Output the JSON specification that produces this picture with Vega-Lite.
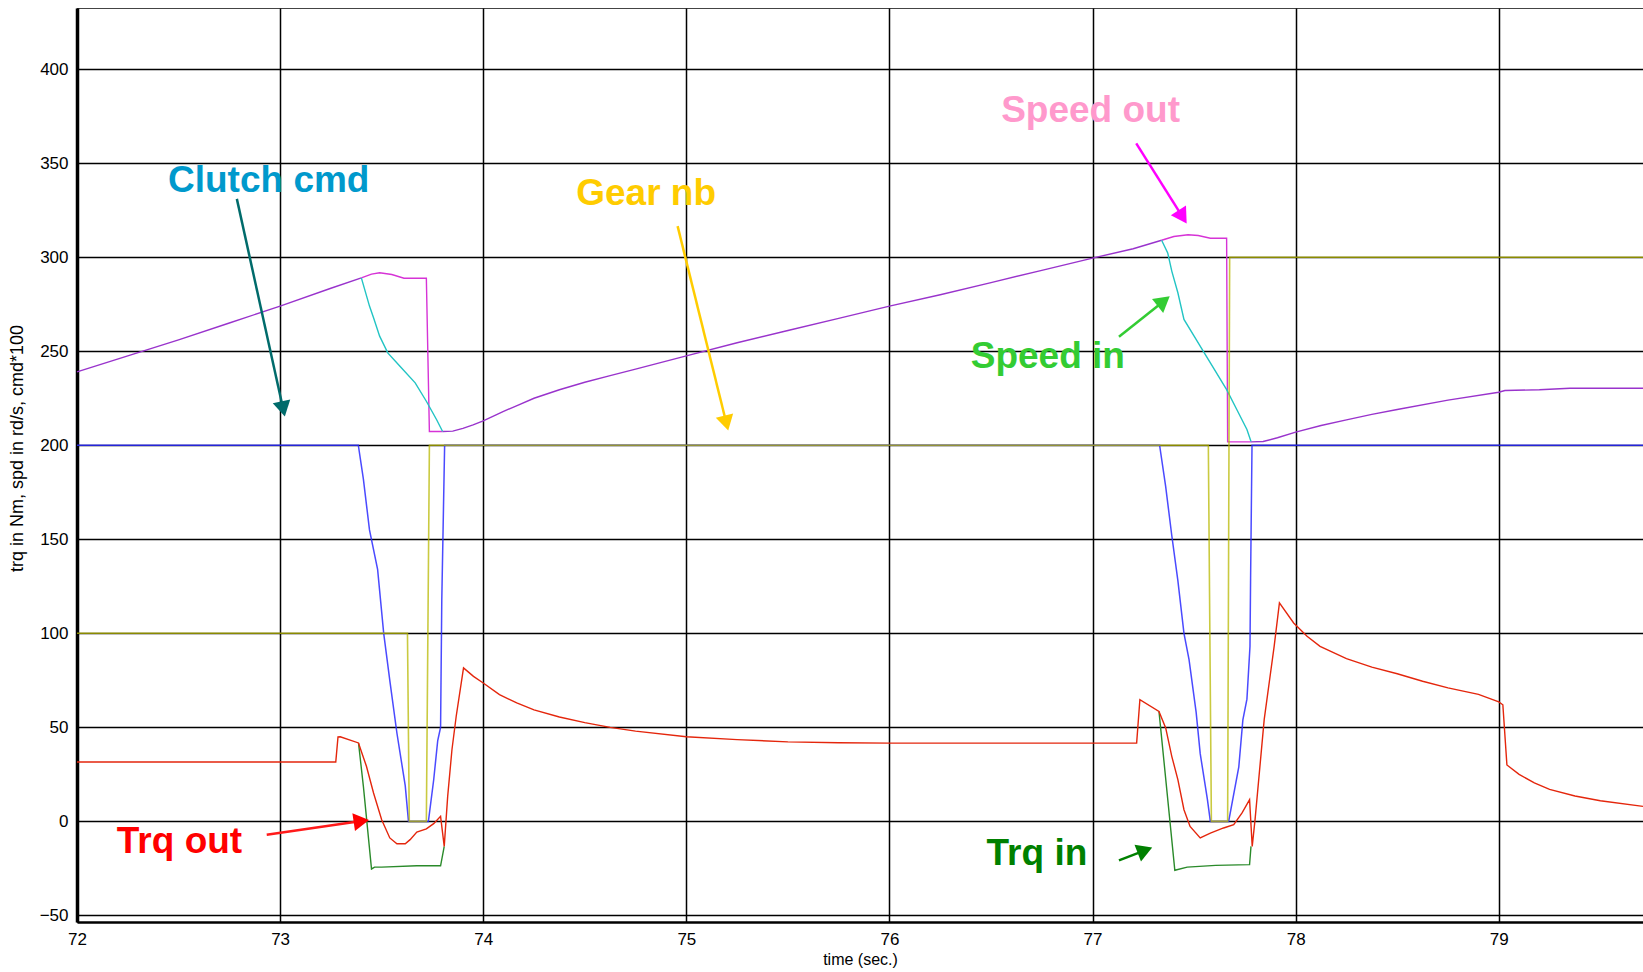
{
  "$schema": "https://vega.github.io/schema/vega-lite/v6.json",
  "width": 1566,
  "height": 914,
  "autosize": "none",
  "padding": {"left": 77, "top": 8, "right": 0, "bottom": 50},
  "background": "white",
  "config": {
    "font": "Liberation Sans",
    "view": {"stroke": "#444444", "strokeWidth": 1},
    "axis": {"labelFont": "Liberation Sans", "titleFont": "Liberation Sans", "labelColor": "black", "titleColor": "black", "titleFontWeight": "normal"}
  },
  "datasets": {
    "speedCommon": [
      {"seg": 1, "t": 72.0, "v": 239}, {"seg": 1, "t": 72.25, "v": 247.5}, {"seg": 1, "t": 72.5, "v": 256}, {"seg": 1, "t": 72.75, "v": 265}, {"seg": 1, "t": 73.0, "v": 274}, {"seg": 1, "t": 73.25, "v": 283.5}, {"seg": 1, "t": 73.4, "v": 289},
      {"seg": 2, "t": 73.8, "v": 207.3}, {"seg": 2, "t": 73.85, "v": 207.5}, {"seg": 2, "t": 73.9, "v": 209}, {"seg": 2, "t": 73.95, "v": 210.8}, {"seg": 2, "t": 74.0, "v": 213}, {"seg": 2, "t": 74.05, "v": 215.5}, {"seg": 2, "t": 74.1, "v": 218}, {"seg": 2, "t": 74.175, "v": 221.5}, {"seg": 2, "t": 74.25, "v": 225}, {"seg": 2, "t": 74.375, "v": 229.5}, {"seg": 2, "t": 74.5, "v": 233.5}, {"seg": 2, "t": 74.625, "v": 237}, {"seg": 2, "t": 74.75, "v": 240.5}, {"seg": 2, "t": 75.0, "v": 247.5}, {"seg": 2, "t": 75.25, "v": 254.5}, {"seg": 2, "t": 75.5, "v": 261}, {"seg": 2, "t": 75.75, "v": 267.5}, {"seg": 2, "t": 76.0, "v": 274}, {"seg": 2, "t": 76.25, "v": 280}, {"seg": 2, "t": 76.5, "v": 286.5}, {"seg": 2, "t": 76.75, "v": 293}, {"seg": 2, "t": 77.0, "v": 299.5}, {"seg": 2, "t": 77.2, "v": 304.5}, {"seg": 2, "t": 77.34, "v": 309},
      {"seg": 3, "t": 77.78, "v": 201.8}, {"seg": 3, "t": 77.84, "v": 202}, {"seg": 3, "t": 77.91, "v": 204}, {"seg": 3, "t": 78.0, "v": 207}, {"seg": 3, "t": 78.125, "v": 210.5}, {"seg": 3, "t": 78.25, "v": 213.5}, {"seg": 3, "t": 78.375, "v": 216.4}, {"seg": 3, "t": 78.5, "v": 219}, {"seg": 3, "t": 78.75, "v": 224}, {"seg": 3, "t": 79.0, "v": 228.2}, {"seg": 3, "t": 79.03, "v": 229.1}, {"seg": 3, "t": 79.2, "v": 229.5}, {"seg": 3, "t": 79.35, "v": 230.3}, {"seg": 3, "t": 79.71, "v": 230.3}
    ],
    "speedOut": [
      {"seg": 1, "t": 73.4, "v": 289}, {"seg": 1, "t": 73.45, "v": 291}, {"seg": 1, "t": 73.49, "v": 291.7}, {"seg": 1, "t": 73.55, "v": 290.8}, {"seg": 1, "t": 73.61, "v": 288.8}, {"seg": 1, "t": 73.72, "v": 288.8}, {"seg": 1, "t": 73.735, "v": 207.3}, {"seg": 1, "t": 73.8, "v": 207.3},
      {"seg": 2, "t": 77.34, "v": 309}, {"seg": 2, "t": 77.4, "v": 311}, {"seg": 2, "t": 77.47, "v": 311.9}, {"seg": 2, "t": 77.52, "v": 311.5}, {"seg": 2, "t": 77.58, "v": 310.1}, {"seg": 2, "t": 77.66, "v": 310.1}, {"seg": 2, "t": 77.665, "v": 201.8}, {"seg": 2, "t": 77.78, "v": 201.8}
    ],
    "speedIn": [
      {"seg": 1, "t": 73.4, "v": 289}, {"seg": 1, "t": 73.44, "v": 274}, {"seg": 1, "t": 73.46, "v": 267.8}, {"seg": 1, "t": 73.49, "v": 258}, {"seg": 1, "t": 73.53, "v": 249.1}, {"seg": 1, "t": 73.59, "v": 242}, {"seg": 1, "t": 73.665, "v": 233.2}, {"seg": 1, "t": 73.72, "v": 223.4}, {"seg": 1, "t": 73.77, "v": 213.7}, {"seg": 1, "t": 73.8, "v": 207.3},
      {"seg": 2, "t": 77.34, "v": 309}, {"seg": 2, "t": 77.37, "v": 302.3}, {"seg": 2, "t": 77.39, "v": 292.6}, {"seg": 2, "t": 77.42, "v": 281.1}, {"seg": 2, "t": 77.45, "v": 266.9}, {"seg": 2, "t": 77.5, "v": 258}, {"seg": 2, "t": 77.55, "v": 249.1}, {"seg": 2, "t": 77.61, "v": 238.5}, {"seg": 2, "t": 77.66, "v": 229.6}, {"seg": 2, "t": 77.71, "v": 219}, {"seg": 2, "t": 77.76, "v": 208.4}, {"seg": 2, "t": 77.78, "v": 202}
    ],
    "clutch": [
      {"t": 72.0, "v": 200}, {"t": 73.385, "v": 200}, {"t": 73.41, "v": 182}, {"t": 73.44, "v": 155}, {"t": 73.48, "v": 134}, {"t": 73.51, "v": 100}, {"t": 73.54, "v": 75}, {"t": 73.575, "v": 47}, {"t": 73.616, "v": 19}, {"t": 73.632, "v": 0}, {"t": 73.73, "v": 0}, {"t": 73.756, "v": 22}, {"t": 73.776, "v": 43}, {"t": 73.79, "v": 50}, {"t": 73.796, "v": 118}, {"t": 73.81, "v": 200},
      {"t": 77.33, "v": 200}, {"t": 77.36, "v": 178}, {"t": 77.39, "v": 152}, {"t": 77.42, "v": 128}, {"t": 77.45, "v": 100}, {"t": 77.475, "v": 86}, {"t": 77.51, "v": 58}, {"t": 77.53, "v": 36}, {"t": 77.565, "v": 12}, {"t": 77.58, "v": 0}, {"t": 77.67, "v": 0}, {"t": 77.72, "v": 29}, {"t": 77.74, "v": 54}, {"t": 77.76, "v": 65}, {"t": 77.775, "v": 93}, {"t": 77.778, "v": 129}, {"t": 77.785, "v": 200}, {"t": 79.71, "v": 200}
    ],
    "gear": [
      {"t": 72.0, "v": 100}, {"t": 73.627, "v": 100}, {"t": 73.636, "v": 0}, {"t": 73.72, "v": 0}, {"t": 73.735, "v": 200}, {"t": 77.57, "v": 200}, {"t": 77.585, "v": 0}, {"t": 77.665, "v": 0}, {"t": 77.675, "v": 300}, {"t": 79.71, "v": 300}
    ],
    "trqOut": [
      {"t": 72.0, "v": 31.6}, {"t": 73.274, "v": 31.6}, {"t": 73.285, "v": 44.9}, {"t": 73.296, "v": 45}, {"t": 73.386, "v": 41.7}, {"t": 73.4, "v": 37.2}, {"t": 73.425, "v": 29.3}, {"t": 73.46, "v": 15.1}, {"t": 73.5, "v": 0.9}, {"t": 73.54, "v": -8.8}, {"t": 73.575, "v": -11.9}, {"t": 73.616, "v": -11.9}, {"t": 73.64, "v": -9.7}, {"t": 73.673, "v": -5.7}, {"t": 73.72, "v": -4}, {"t": 73.756, "v": -1.2}, {"t": 73.79, "v": 2.7}, {"t": 73.808, "v": -13.3}, {"t": 73.825, "v": 13.3}, {"t": 73.846, "v": 38.1}, {"t": 73.867, "v": 55.9}, {"t": 73.903, "v": 81.6}, {"t": 73.952, "v": 77.1}, {"t": 74.0, "v": 73.6}, {"t": 74.08, "v": 67.4}, {"t": 74.165, "v": 63}, {"t": 74.25, "v": 59.3}, {"t": 74.375, "v": 55.5}, {"t": 74.5, "v": 52.5}, {"t": 74.625, "v": 50}, {"t": 74.75, "v": 48}, {"t": 75.0, "v": 45}, {"t": 75.25, "v": 43.5}, {"t": 75.5, "v": 42.3}, {"t": 75.75, "v": 41.8}, {"t": 76.0, "v": 41.6}, {"t": 77.217, "v": 41.6}, {"t": 77.233, "v": 64.7}, {"t": 77.327, "v": 58.5}, {"t": 77.36, "v": 49.7}, {"t": 77.39, "v": 34.6}, {"t": 77.42, "v": 22.2}, {"t": 77.45, "v": 6.2}, {"t": 77.48, "v": -2.7}, {"t": 77.53, "v": -8.8}, {"t": 77.58, "v": -6.2}, {"t": 77.645, "v": -3.5}, {"t": 77.695, "v": -1.8}, {"t": 77.736, "v": 4.5}, {"t": 77.773, "v": 11.5}, {"t": 77.786, "v": -13.3}, {"t": 77.8, "v": 0.9}, {"t": 77.845, "v": 54.1}, {"t": 77.894, "v": 93.1}, {"t": 77.92, "v": 116.2}, {"t": 77.99, "v": 105.5}, {"t": 78.056, "v": 98.4}, {"t": 78.12, "v": 93.1}, {"t": 78.25, "v": 86.5}, {"t": 78.375, "v": 82}, {"t": 78.5, "v": 78.5}, {"t": 78.625, "v": 74.5}, {"t": 78.75, "v": 71}, {"t": 78.9, "v": 67.5}, {"t": 79.0, "v": 63.5}, {"t": 79.02, "v": 62}, {"t": 79.04, "v": 30}, {"t": 79.1, "v": 25}, {"t": 79.175, "v": 20.5}, {"t": 79.25, "v": 17}, {"t": 79.375, "v": 13.5}, {"t": 79.5, "v": 11}, {"t": 79.71, "v": 8}
    ],
    "trqIn": [
      {"seg": 1, "t": 73.386, "v": 41.7}, {"seg": 1, "t": 73.41, "v": 18.6}, {"seg": 1, "t": 73.45, "v": -25.3}, {"seg": 1, "t": 73.465, "v": -24.3}, {"seg": 1, "t": 73.5, "v": -24.3}, {"seg": 1, "t": 73.673, "v": -23.6}, {"seg": 1, "t": 73.79, "v": -23.6}, {"seg": 1, "t": 73.808, "v": -13.3},
      {"seg": 2, "t": 77.327, "v": 58.5}, {"seg": 2, "t": 77.405, "v": -26}, {"seg": 2, "t": 77.466, "v": -24.3}, {"seg": 2, "t": 77.606, "v": -23.4}, {"seg": 2, "t": 77.773, "v": -23}, {"seg": 2, "t": 77.78, "v": -13.3}
    ],
    "labels": [
      {"name": "Clutch cmd", "t": 72.448, "v": 334.6},
      {"name": "Gear nb", "t": 74.458, "v": 328},
      {"name": "Speed out", "t": 76.55, "v": 371.8},
      {"name": "Speed in", "t": 76.4, "v": 241.2},
      {"name": "Trq out", "t": 72.196, "v": -16.8},
      {"name": "Trq in", "t": 76.478, "v": -23}
    ],
    "arrows": [
      {"name": "Clutch cmd", "t0": 72.787, "v0": 331, "t1": 73.015, "v1": 219.3},
      {"name": "Gear nb", "t0": 74.957, "v0": 316.5, "t1": 75.197, "v1": 211.8},
      {"name": "Speed out", "t0": 77.215, "v0": 360.5, "t1": 77.443, "v1": 321.4},
      {"name": "Speed in", "t0": 77.13, "v0": 257.7, "t1": 77.35, "v1": 276.6},
      {"name": "Trq out", "t0": 72.934, "v0": -7.1, "t1": 73.4, "v1": 0.2},
      {"name": "Trq in", "t0": 77.13, "v0": -20.7, "t1": 77.258, "v1": -15.4}
    ]
  },
  "layer": [
    {
      "data": {"name": "speedCommon"},
      "mark": {"type": "line", "color": "#9933cc", "strokeWidth": 1.4},
      "encoding": {
        "x": {"field": "t", "type": "quantitative", "scale": {"domain": [72, 79.71], "nice": false, "zero": false},
          "axis": {"values": [72, 73, 74, 75, 76, 77, 78, 79], "format": "d", "title": "time (sec.)", "grid": true, "gridColor": "black", "gridWidth": 1.5, "gridOpacity": 1, "domainColor": "black", "domainWidth": 2.5, "ticks": false, "labelFlush": false, "labelFontSize": 17, "labelPadding": 9, "titleFontSize": 16, "titlePadding": 4}},
        "y": {"field": "v", "type": "quantitative", "scale": {"domain": [-53.5, 432.5], "nice": false, "zero": false},
          "axis": {"values": [-50, 0, 50, 100, 150, 200, 250, 300, 350, 400], "title": "trq in Nm, spd in rd/s, cmd*100", "grid": true, "gridColor": "black", "gridWidth": 1.5, "gridOpacity": 1, "domainColor": "black", "domainWidth": 3.5, "ticks": false, "labelFlush": false, "labelFontSize": 17, "labelPadding": 9, "titleFontSize": 18, "titleX": -51, "titleY": 440}},
        "detail": {"field": "seg"},
        "order": {"value": null}
      }
    },
    {
      "data": {"name": "speedOut"},
      "mark": {"type": "line", "color": "#d633d6", "strokeWidth": 1.4},
      "encoding": {"x": {"field": "t", "type": "quantitative"}, "y": {"field": "v", "type": "quantitative"}, "detail": {"field": "seg"}, "order": {"value": null}}
    },
    {
      "data": {"name": "speedIn"},
      "mark": {"type": "line", "color": "#22c4c4", "strokeWidth": 1.4},
      "encoding": {"x": {"field": "t", "type": "quantitative"}, "y": {"field": "v", "type": "quantitative"}, "detail": {"field": "seg"}, "order": {"value": null}}
    },
    {
      "data": {"name": "clutch"},
      "mark": {"type": "line", "color": "#2a2aff", "strokeWidth": 1.5, "opacity": 0.85},
      "encoding": {"x": {"field": "t", "type": "quantitative"}, "y": {"field": "v", "type": "quantitative"}, "order": {"value": null}}
    },
    {
      "data": {"name": "gear"},
      "mark": {"type": "line", "color": "#b8b800", "strokeWidth": 1.6, "opacity": 0.75},
      "encoding": {"x": {"field": "t", "type": "quantitative"}, "y": {"field": "v", "type": "quantitative"}, "order": {"value": null}}
    },
    {
      "data": {"name": "trqIn"},
      "mark": {"type": "line", "color": "#2a8a2a", "strokeWidth": 1.4},
      "encoding": {"x": {"field": "t", "type": "quantitative"}, "y": {"field": "v", "type": "quantitative"}, "detail": {"field": "seg"}, "order": {"value": null}}
    },
    {
      "data": {"name": "trqOut"},
      "mark": {"type": "line", "color": "#e4260c", "strokeWidth": 1.4},
      "encoding": {"x": {"field": "t", "type": "quantitative"}, "y": {"field": "v", "type": "quantitative"}, "order": {"value": null}}
    },
    {
      "data": {"name": "arrows"},
      "mark": {"type": "rule", "strokeWidth": 2.5},
      "encoding": {
        "x": {"field": "t0", "type": "quantitative"}, "y": {"field": "v0", "type": "quantitative"},
        "x2": {"field": "t1"}, "y2": {"field": "v1"},
        "color": {"field": "name", "type": "nominal", "legend": null, "scale": {"domain": ["Clutch cmd", "Gear nb", "Speed out", "Speed in", "Trq out", "Trq in"], "range": ["#006b6b", "#ffcc00", "#ff00ff", "#33cc33", "#ff1a1a", "#008000"]}}
      }
    },
    {
      "data": {"name": "arrows"},
      "transform": [{"filter": "datum.name === 'Clutch cmd'"}],
      "mark": {"type": "point", "shape": "triangle-up", "filled": true, "opacity": 1, "size": 320, "angle": 167.6, "color": "#006b6b"},
      "encoding": {"x": {"field": "t1", "type": "quantitative"}, "y": {"field": "v1", "type": "quantitative"}}
    },
    {
      "data": {"name": "arrows"},
      "transform": [{"filter": "datum.name === 'Gear nb'"}],
      "mark": {"type": "point", "shape": "triangle-up", "filled": true, "opacity": 1, "size": 320, "angle": 166, "color": "#ffcc00"},
      "encoding": {"x": {"field": "t1", "type": "quantitative"}, "y": {"field": "v1", "type": "quantitative"}}
    },
    {
      "data": {"name": "arrows"},
      "transform": [{"filter": "datum.name === 'Speed out'"}],
      "mark": {"type": "point", "shape": "triangle-up", "filled": true, "opacity": 1, "size": 320, "angle": 147.8, "color": "#ff00ff"},
      "encoding": {"x": {"field": "t1", "type": "quantitative"}, "y": {"field": "v1", "type": "quantitative"}}
    },
    {
      "data": {"name": "arrows"},
      "transform": [{"filter": "datum.name === 'Speed in'"}],
      "mark": {"type": "point", "shape": "triangle-up", "filled": true, "opacity": 1, "size": 320, "angle": 51.4, "color": "#33cc33"},
      "encoding": {"x": {"field": "t1", "type": "quantitative"}, "y": {"field": "v1", "type": "quantitative"}}
    },
    {
      "data": {"name": "arrows"},
      "transform": [{"filter": "datum.name === 'Trq out'"}],
      "mark": {"type": "point", "shape": "triangle-up", "filled": true, "opacity": 1, "size": 320, "angle": 81.7, "color": "#ff0000"},
      "encoding": {"x": {"field": "t1", "type": "quantitative"}, "y": {"field": "v1", "type": "quantitative"}}
    },
    {
      "data": {"name": "arrows"},
      "transform": [{"filter": "datum.name === 'Trq in'"}],
      "mark": {"type": "point", "shape": "triangle-up", "filled": true, "opacity": 1, "size": 320, "angle": 68.7, "color": "#008000"},
      "encoding": {"x": {"field": "t1", "type": "quantitative"}, "y": {"field": "v1", "type": "quantitative"}}
    },
    {
      "data": {"name": "labels"},
      "mark": {"type": "text", "align": "left", "baseline": "alphabetic", "fontSize": 37, "fontWeight": "bold", "font": "Liberation Sans"},
      "encoding": {
        "x": {"field": "t", "type": "quantitative"}, "y": {"field": "v", "type": "quantitative"},
        "text": {"field": "name"},
        "color": {"field": "name", "type": "nominal", "legend": null, "scale": {"domain": ["Clutch cmd", "Gear nb", "Speed out", "Speed in", "Trq out", "Trq in"], "range": ["#0099cc", "#ffcc00", "#ff99cc", "#33cc33", "#ff0000", "#008000"]}}
      }
    }
  ],
  "resolve": {"scale": {"color": "independent"}}
}
